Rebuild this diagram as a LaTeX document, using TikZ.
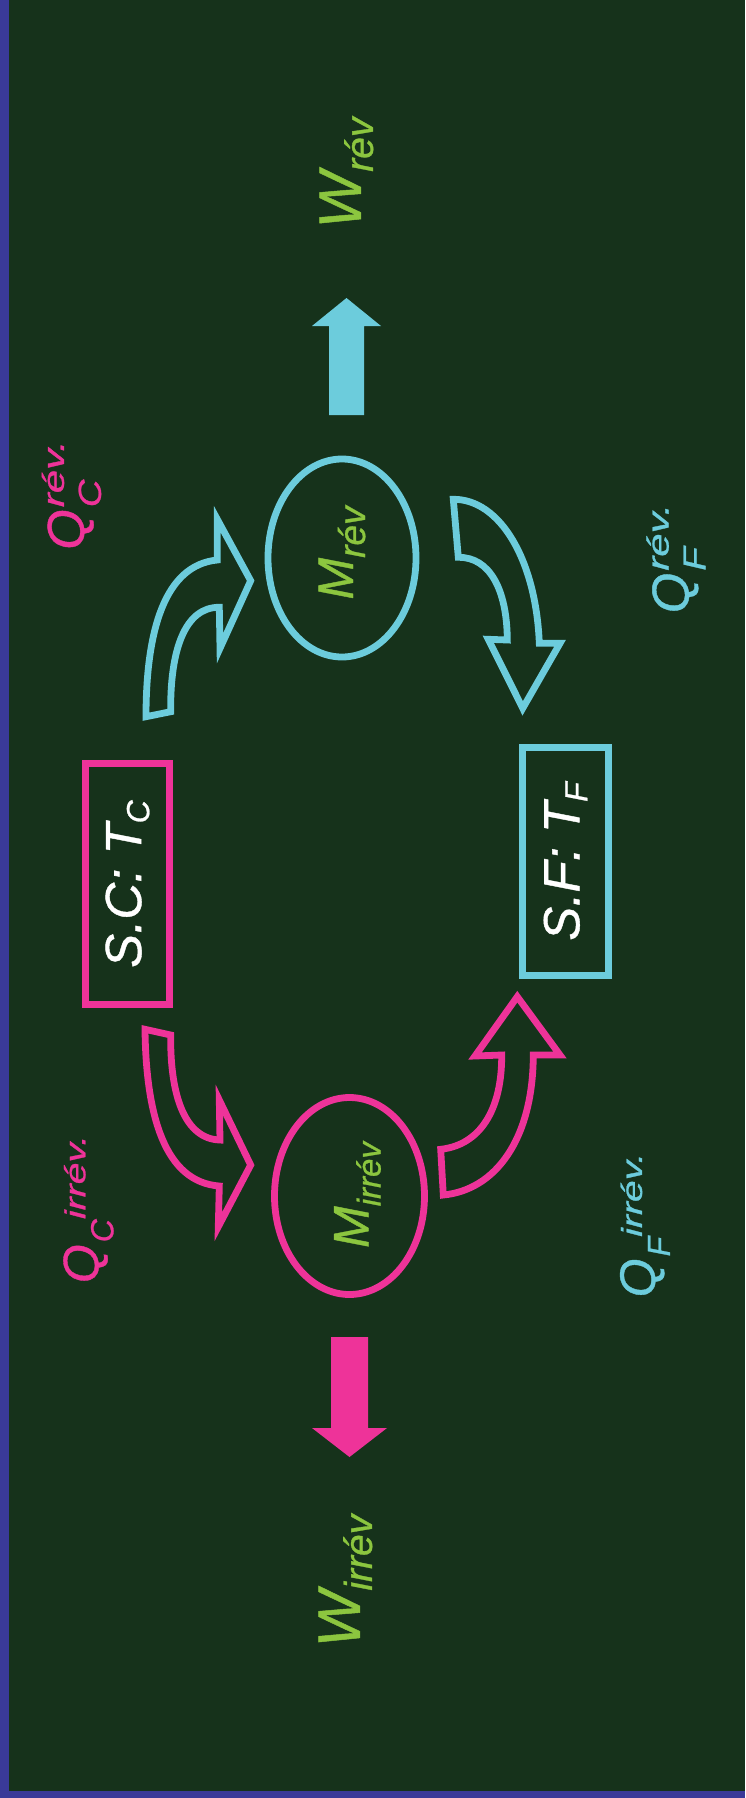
\documentclass[tikz,border=0pt]{standalone}
\usepackage{fontspec}
\setmainfont{Liberation Sans}[ItalicFeatures={FakeBold=0.8}]
\usepackage{graphicx}
\usetikzlibrary{shapes.geometric}

\definecolor{bg}{HTML}{16321B}
\definecolor{edge}{HTML}{3A3A98}
\definecolor{hot}{HTML}{EE3399}
\definecolor{cold}{HTML}{6CCCDC}
\definecolor{work}{HTML}{8CC63F}

% text helpers: sized run, lowered run, raised run
\newcommand{\fs}[2]{{\fontsize{#1pt}{#1pt}\selectfont #2}}
\newcommand{\lowered}[3]{\raisebox{-#1pt}{\fs{#2}{#3}}}
\newcommand{\raised}[3]{\raisebox{#1pt}{\fs{#2}{#3}}}

\begin{document}
\begin{tikzpicture}[x=1pt,y=-1pt,
  lbl/.style={rotate=90, inner sep=0pt, font=\itshape},
  band/.style={line width=6.8pt, line join=miter, miter limit=10},
  reservoir/.style={rectangle, rotate=90, line width=7pt, inner sep=0pt, font=\itshape, text=white},
  engine/.style={ellipse, line width=6.8pt, inner sep=0pt}]

% background and frame strips
\fill[edge] (0,0) rectangle (745,1798);
\fill[bg] (9,0) rectangle (745,1791);
\useasboundingbox (0,0) rectangle (745,1798);

% reservoirs
\node[reservoir, draw=hot, minimum width=241pt, minimum height=84pt] (sc) at (127.5,884)
  {\fs{51}{S.C: T}\lowered{8}{32}{C}};
\node[reservoir, draw=cold, minimum width=228pt, minimum height=86pt] (sf) at (565.5,861.5)
  {\fs{51}{S.F: T}\lowered{8}{32}{F}};

% engines
\node[engine, draw=cold, minimum width=148pt, minimum height=198pt] (mrev) at (342,558) {};
\node[engine, draw=hot, minimum width=150pt, minimum height=197pt] (mirr) at (349.5,1196) {};
\node[lbl, text=work] (mrevt) at (342,553) {\fs{50}{M}\lowered{12}{37}{rév}};
\node[lbl, text=work] (mirrt) at (357.5,1195) {\fs{50}{M}\lowered{12}{33}{irrév}};

% reversible cycle: heat in, heat out
\draw[band, cold] (146,716.7) -- (170.7,711.7)
  .. controls (170,650) and (185,607) .. (219.3,607.3)
  -- (220,648.3) -- (250.7,580.7) -- (217.3,519.3) -- (217.3,560)
  .. controls (165,565) and (146,630) .. (146,716.7) -- cycle;
\draw[band, cold] (453.3,499.3) -- (458.3,557.3)
  .. controls (490,557) and (507,590) .. (507.3,640)
  -- (488.3,639.3) -- (522.7,708.3) -- (560,643.3) -- (539.3,643.3)
  .. controls (536,560) and (500,499) .. (453.3,499.3) -- cycle;

% irreversible cycle: heat in, heat out
\draw[band, hot] (145,1029.3) -- (170.7,1035)
  .. controls (170,1096) and (185,1139) .. (220,1140)
  -- (219.3,1100) -- (250.7,1165) -- (218.3,1226.7) -- (219.3,1186)
  .. controls (165,1182) and (146,1116) .. (145,1029.3) -- cycle;
\draw[band, hot] (440.7,1149.3)
  .. controls (480,1145) and (502,1110) .. (501.7,1055)
  -- (475,1056) -- (517.3,996.7) -- (560,1055) -- (533.3,1055)
  .. controls (533,1140) and (495,1190) .. (443.3,1195) -- cycle;

% work arrows
\fill[cold] (329,415) -- (329,326) -- (312,326) -- (346.5,298) -- (381,326) -- (364,326) -- (364,415) -- cycle;
\fill[hot] (331,1337) -- (331,1428) -- (312,1428) -- (349.5,1457) -- (387,1428) -- (368,1428) -- (368,1337) -- cycle;

% labels
\node[lbl, text=work] (wrev) at (346.5,173) {\fs{60}{W}\lowered{12}{39}{rév}};
\node[lbl, text=work] (wirr) at (345.5,1581) {\fs{60}{W}\lowered{12}{39}{irrév}};
\node[lbl, text=hot] (qcrev) at (71.5,495)
  {\fs{52}{Q}\kern2pt\rlap{\lowered{17}{32}{\scalebox{1.2}[1]{C}}}\raised{20}{30}{\scalebox{1.4}[1]{rév.}}};
\node[lbl, text=cold] (qfrev) at (676,558.5)
  {\fs{52}{Q}\kern2pt\rlap{\lowered{17}{32}{\scalebox{1.2}[1]{F}}}\raised{20}{30}{\scalebox{1.4}[1]{rév.}}};
\node[lbl, text=hot] (qcirr) at (88.5,1209)
  {\fs{50}{Q}\kern2pt\lowered{15}{32}{C}\raised{13}{29}{\scalebox{1.35}[1]{irrév.}}};
\node[lbl, text=cold] (qfirr) at (645,1225)
  {\fs{50}{Q}\kern2pt\lowered{15}{32}{F}\raised{13}{29}{\scalebox{1.35}[1]{irrév.}}};
\end{tikzpicture}
\end{document}
